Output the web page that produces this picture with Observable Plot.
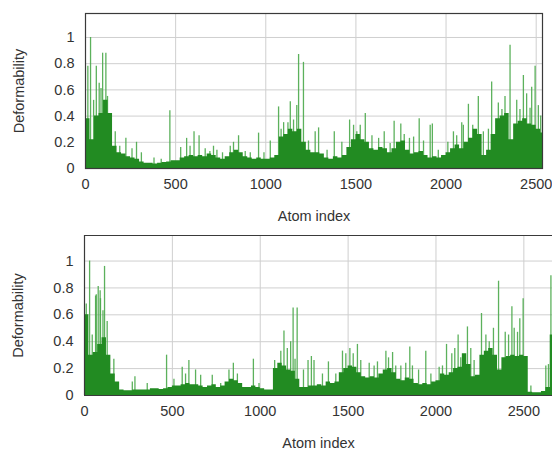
<!DOCTYPE html>
<html>
<head>
<meta charset="utf-8">
<script src="https://cdn.jsdelivr.net/npm/d3@7"></script>
<script src="https://cdn.jsdelivr.net/npm/@observablehq/plot@0.6"></script>
<style>
  html, body { margin: 0; padding: 0; background: #fff; overflow: hidden; }
  #chart svg { display: block; }
</style>
</head>
<body>
<div id="chart"></div>
<script>
// ---- data ----
const STEP = 25; // atoms per base bin
const xTicks = [0, 500, 1000, 1500, 2000, 2500];
const yTicks = [0, 0.2, 0.4, 0.6, 0.8, 1];
const xLabel = "Atom index";
const yLabel = "Deformability";

// top panel: base (dense fill) level per 25-atom bin, starting at atom 0
const topBase = [
  .38,.22,.40,.42,.52,.42,.17,.12,.11,.09,
  .08,.07,.05,.04,.04,.035,.04,.045,.05,.06,
  .06,.08,.09,.10,.09,.10,.09,.11,.10,.08,
  .07,.09,.12,.14,.12,.09,.08,.07,.08,.07,
  .07,.08,.10,.24,.26,.30,.28,.30,.20,.14,
  .12,.12,.11,.08,.07,.09,.08,.10,.16,.22,
  .26,.22,.20,.15,.14,.16,.15,.12,.15,.20,
  .21,.14,.11,.12,.13,.10,.08,.09,.08,.10,
  .12,.15,.18,.15,.20,.23,.30,.26,.10,.14,
  .26,.38,.40,.42,.22,.34,.36,.38,.34,.33,
  .30,.27
];
// top panel: individual peaks [atom index, deformability]
const topSpikes = [
  [13,.78],[28,1.0],[45,.52],[60,.78],[76,.65],[86,.61],[95,.88],[113,.88],[122,.55],
  [165,.28],[190,.17],[224,.23],[258,.15],[283,.20],[310,.12],[380,.08],[420,.07],
  [468,.44],[528,.16],[561,.23],[580,.17],[602,.28],[630,.25],[664,.15],[690,.13],
  [710,.17],[729,.14],[760,.12],[803,.17],[821,.20],[849,.25],[886,.13],[914,.12],
  [960,.27],[990,.12],[1025,.21],[1071,.47],[1085,.30],[1099,.35],[1123,.35],[1136,.51],
  [1154,.37],[1172,.48],[1182,.87],[1209,.81],[1237,.21],[1274,.28],[1293,.31],
  [1340,.14],[1380,.28],[1422,.20],[1465,.37],[1487,.33],[1505,.28],[1524,.33],
  [1552,.42],[1589,.25],[1626,.23],[1657,.28],[1690,.19],[1712,.36],[1749,.34],
  [1768,.26],[1797,.23],[1820,.24],[1851,.38],[1875,.21],[1912,.33],[1924,.34],
  [1957,.14],[2010,.20],[2041,.28],[2059,.25],[2087,.35],[2096,.33],[2124,.49],
  [2148,.33],[2179,.55],[2207,.28],[2235,.30],[2253,.66],[2290,.50],[2310,.45],
  [2327,.55],[2355,.94],[2392,.52],[2410,.45],[2429,.71],[2447,.57],[2466,.46],
  [2475,.62],[2494,.78],[2512,.48],[2525,.40]
];

// bottom panel: base level per 25-atom bin, starting at atom 0
const bottomBase = [
  .60,.30,.32,.38,.43,.30,.16,.10,.04,.035,
  .035,.04,.04,.04,.04,.05,.05,.045,.05,.06,
  .07,.07,.08,.09,.08,.08,.07,.06,.07,.08,
  .06,.07,.10,.12,.11,.09,.06,.06,.07,.06,
  .05,.04,.04,.20,.24,.22,.19,.18,.12,.06,
  .06,.07,.07,.08,.07,.10,.09,.10,.17,.20,
  .22,.21,.17,.14,.13,.14,.13,.16,.19,.20,
  .17,.12,.11,.13,.12,.09,.08,.09,.08,.10,
  .11,.16,.15,.17,.20,.21,.31,.23,.14,.15,
  .30,.33,.35,.30,.19,.28,.29,.30,.29,.30,
  .29,.025,.02,.02,.03,.06,.45
];
// bottom panel: individual peaks [atom index, deformability]
const bottomSpikes = [
  [10,.68],[29,1.0],[44,.45],[63,.74],[67,.75],[78,.81],[89,.78],[91,.72],[105,.63],
  [114,.96],[129,.55],[167,.27],[272,.10],[287,.14],[357,.09],[467,.30],[509,.12],
  [556,.21],[575,.16],[594,.26],[632,.19],[661,.15],[727,.15],[775,.09],[822,.19],
  [847,.24],[870,.16],[961,.27],[993,.09],[1082,.26],[1117,.33],[1135,.48],[1154,.35],
  [1173,.40],[1187,.65],[1198,.27],[1210,.65],[1246,.19],[1272,.26],[1291,.29],
  [1306,.26],[1354,.16],[1388,.25],[1430,.16],[1468,.33],[1487,.31],[1510,.35],
  [1529,.31],[1553,.38],[1572,.26],[1620,.24],[1648,.22],[1667,.25],[1715,.33],
  [1730,.28],[1753,.32],[1771,.22],[1800,.22],[1828,.24],[1851,.36],[1866,.22],
  [1901,.19],[1942,.33],[1971,.16],[2018,.21],[2037,.22],[2060,.38],[2090,.31],
  [2107,.35],[2126,.45],[2141,.28],[2179,.51],[2198,.35],[2217,.26],[2259,.61],
  [2284,.45],[2303,.40],[2327,.50],[2356,.85],[2394,.47],[2413,.45],[2432,.66],
  [2445,.50],[2464,.47],[2477,.57],[2496,.72],[2540,.07],[2625,.22],[2640,.23],[2654,.89]
];

// ---- drawing ----
const GREEN = "#228b22";
const SPIKE = "#4aa84a";
const GRID = "#cfcfcf";
const FRAME = "#3a3a3a";
const fmt = d => String(d);

function panel({base, spikes, xMax, yMax, height, marginTop, marginBottom, marginLeft, marginRight, full}) {
  // each bin contributes its two edges so the area is drawn as one stepped shape
  const steps = base.flatMap((v, i) => [{x: i * STEP, y: v}, {x: (i + 1) * STEP, y: v}]);
  const frameMarks = full
    ? [Plot.frame({stroke: FRAME, strokeWidth: 1.2})]
    : [
        Plot.ruleY([0, yMax], {stroke: FRAME, strokeWidth: 1.2}),
        Plot.ruleX([0], {stroke: FRAME, strokeWidth: 1.2})
      ];
  return Plot.plot({
    width: 552,
    height,
    marginTop, marginBottom, marginLeft, marginRight,
    style: {fontFamily: "'Liberation Sans', Arial, sans-serif", fontSize: "14.5px", color: "#333", background: "#fff"},
    x: {domain: [0, xMax]},
    y: {domain: [0, yMax]},
    marks: [
      Plot.gridX(xTicks, {stroke: GRID, strokeOpacity: 1, strokeWidth: 1}),
      Plot.gridY(yTicks, {stroke: GRID, strokeOpacity: 1, strokeWidth: 1}),
      Plot.ruleX(spikes, {x: d => d[0], y1: 0, y2: d => d[1], stroke: SPIKE, strokeWidth: 1.3, strokeOpacity: 0.9, clip: true}),
      Plot.area(steps, {x1: "x", y1: 0, y2: "y", fill: GREEN, clip: true}),
      Plot.axisX(xTicks, {tickSize: 0, tickPadding: 10, tickFormat: fmt, label: xLabel, labelAnchor: "center", labelArrow: "none", labelOffset: 52}),
      Plot.axisY(yTicks, {tickSize: 0, tickPadding: 11, tickFormat: fmt, label: yLabel, labelAnchor: "center", labelArrow: "none", labelOffset: 72}),
      ...frameMarks
    ]
  });
}

const chart = document.getElementById("chart");
chart.append(panel({base: topBase, spikes: topSpikes, xMax: 2535, yMax: 1.183, height: 225,
  marginTop: 13, marginBottom: 57, marginLeft: 85, marginRight: 10, full: true}));
chart.append(panel({base: bottomBase, spikes: bottomSpikes, xMax: 2663, yMax: 1.19, height: 224,
  marginTop: 10, marginBottom: 54, marginLeft: 84, marginRight: 0, full: false}));
</script>
</body>
</html>
